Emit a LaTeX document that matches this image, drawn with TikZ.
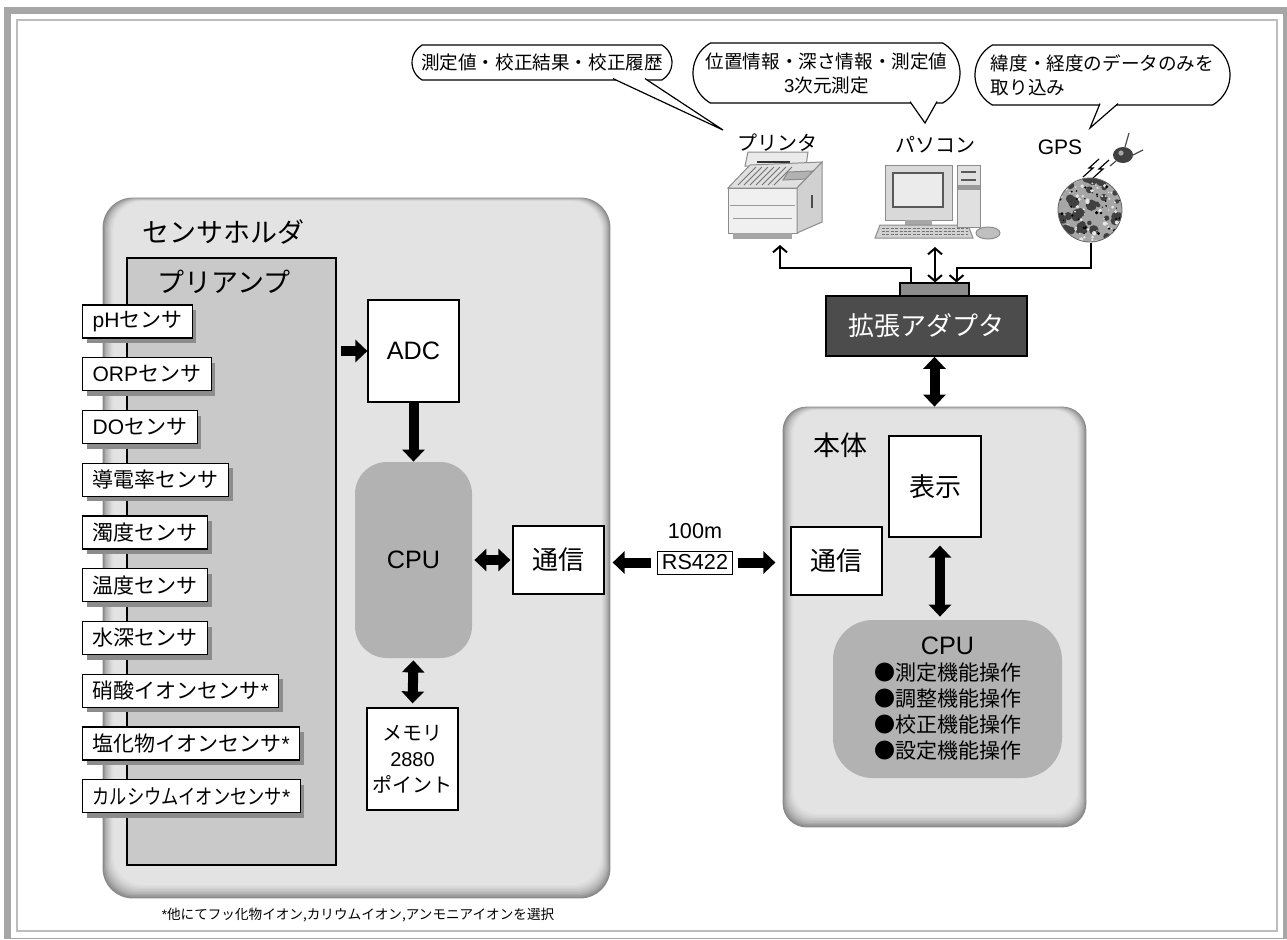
\documentclass[tikz,border=0pt]{standalone}
\usepackage{fontspec}
\setmainfont{Noto Sans CJK JP}
\newfontfamily\lat{Liberation Sans}
\newfontfamily\jpnarrow{Noto Sans CJK JP}[FakeStretch=0.82]
\usetikzlibrary{arrows.meta, shadows, shapes.misc}

% bevelled panel behind an empty node: dark rim, light inside
\newcommand\bevel[2]{%
  \foreach \d/\c in {0/46,1/40,2/34,3/29,4/25,5/21,6/18,7/15,8/13,9/11}{%
    \fill[black!\c, rounded corners=#2]
      ([xshift=\d*0.6pt, yshift=-\d*0.2pt]#1.north west) rectangle
      ([xshift=-\d*0.5pt, yshift=\d*0.75pt]#1.south east);
  }%
}

\begin{document}
\begin{tikzpicture}[x=0.5pt, y=-0.5pt,
  every node/.style={font=\fontsize{10.5}{13}\selectfont},
  box/.style={draw, fill=white, line width=0.6pt, inner sep=0pt, align=center},
  sensor/.style={draw, fill=white, line width=0.6pt, anchor=west, minimum height=16.5pt,
    inner xsep=5pt, inner ysep=0pt,
    drop shadow={shadow xshift=2pt, shadow yshift=-2.5pt, fill=black!45, opacity=1}},
  cpubox/.style={fill=black!30, rounded corners=16pt, inner sep=0pt, align=center},
  title/.style={anchor=west, inner sep=0pt, font=\fontsize{13.5}{16}\selectfont},
  bubble/.style={rounded rectangle, rounded rectangle arc length=120, draw, fill=white,
    line width=0.6pt, inner sep=0pt, font=\fontsize{9.3}{12}\selectfont},
  tail/.style={draw, fill=white, line width=0.6pt},
  bigarrow/.style={line width=5pt, -{Triangle[length=6pt,width=11pt]}},
  bigboth/.style={line width=5pt, {Triangle[length=6pt,width=11pt]}-{Triangle[length=6pt,width=11pt]}},
  link/.style={line width=1pt, -{Straight Barb[length=3pt,width=7pt]}},
  linkboth/.style={line width=1pt, {Straight Barb[length=3pt,width=7pt]}-{Straight Barb[length=3pt,width=7pt]}},
  icon/.style={draw=black!45, line width=0.5pt}
]
\useasboundingbox (0,0) rectangle (1287,939);

% page frame
\fill[black!35] (4,7) rectangle (1287,939);
\fill[white] (11,14) rectangle (1283,937.5);
\draw[black!26, line width=1pt] (16.5,19.5) rectangle (1277,931);

% sensor holder
\node[inner sep=0pt, minimum width=253.5pt, minimum height=350pt] (holder) at (356.5,548) {};
\bevel{holder}{15pt}
\node[title] (holderT) at (142,232) {センサホルダ};
\node[draw, fill=black!21, line width=0.6pt, minimum width=104.5pt, minimum height=303.5pt] (pre) at (231.5,561.5) {};
\node[title] (preT) at (157,282) {プリアンプ};

\foreach \s [count=\i from 0] in {{\lat pH}センサ, {\lat ORP}センサ, {\lat DO}センサ, 導電率センサ, 濁度センサ,
    温度センサ, 水深センサ, 硝酸イオンセンサ{\lat *}, 塩化物イオンセンサ{\lat *}, {\jpnarrow カルシウムイオンセンサ}{\lat *}}
  \node[sensor] (s\i) at (82,321.5+52.75*\i) {\s};

\node[box, minimum width=45.5pt, minimum height=51pt, font=\lat\fontsize{12.6}{14}\selectfont] (adc) at (413.5,351) {ADC};
\node[cpubox, minimum width=58.5pt, minimum height=98pt, font=\lat\fontsize{12.6}{14}\selectfont] (cpuL) at (413.5,560) {CPU};
\node[box, minimum width=45.5pt, minimum height=51pt, font=\fontsize{10}{13}\selectfont] (mem) at (412.5,759) {メモリ\\{\lat 2880}\\ポイント};
\node[box, minimum width=45.5pt, minimum height=34pt, font=\fontsize{13}{15}\selectfont] (comL) at (558.5,560) {通信};

% cable
\node[draw, line width=0.5pt, inner xsep=2pt, inner ysep=1pt, minimum height=11.5pt, font=\lat\fontsize{10.8}{12}\selectfont] (rs) at (695,562.5) {RS422};
\node[font=\lat\fontsize{10.8}{12}\selectfont] (len) at (695,531) {100m};

% main unit
\node[inner sep=0pt, minimum width=151.5pt, minimum height=210pt] (body) at (934.5,617) {};
\bevel{body}{12pt}
\node[title] (bodyT) at (813,445) {本体};
\node[box, minimum width=46pt, minimum height=50.5pt, font=\fontsize{13}{15}\selectfont] (disp) at (935,486.5) {表示};
\node[box, minimum width=45.5pt, minimum height=34pt, font=\fontsize{13}{15}\selectfont] (comR) at (836.5,561) {通信};
\node[cpubox, rounded corners=20pt, minimum width=114.5pt, minimum height=79pt] (cpuR) at (947.5,699)
  {{\lat\fontsize{12.6}{13}\selectfont CPU}\\●測定機能操作\\●調整機能操作\\●校正機能操作\\●設定機能操作};

% adapter
\node[draw, fill=black!70, line width=0.8pt, minimum width=100.5pt, minimum height=30pt, text=white,
  font=\fontsize{13}{15}\selectfont] (ada) at (926.5,326) {拡張アダプタ};
\node[draw, fill=black!45, line width=0.6pt, minimum width=34.5pt, minimum height=6.5pt, inner sep=0pt] (blk) at (934.5,289.5) {};

% block arrows
\draw[bigarrow, shorten <=2pt] (adc.west -| pre.east) -- (adc.west);
\draw[bigarrow] (adc.south) -- (cpuL.north);
\draw[bigboth, shorten <=1pt, shorten >=1pt] (cpuL.east) -- (comL.west);
\draw[bigboth, shorten <=1pt, shorten >=2pt] (cpuL.south) -- (mem.north);
\draw[bigarrow, shorten <=3pt, shorten >=4pt] (rs.west) -- (rs.west -| comL.east);
\draw[bigarrow, shorten <=2.5pt, shorten >=7.5pt] (rs.east) -- (rs.east -| comR.west);
\draw[bigboth] (ada.south -| body.north) -- (body.north);
\draw[bigboth, shorten <=4pt, shorten >=1.5pt] ([xshift=2.5pt]disp.south) -- ([xshift=2.5pt]disp.south |- cpuR.north);

% printer
\filldraw[icon, fill=black!8] (748,152) -- (808,152) -- (806,166) -- (745,166) -- cycle;
\draw[black!80, line width=1.2pt] (757,162) -- (790,162);
\filldraw[icon, fill=black!12] (728,188) -- (750,165) -- (822,162) -- (797,188) -- cycle;
\foreach \k in {0,...,6}
  \draw[black!55] (738+6*\k,185) -- (756+6*\k,167);
\filldraw[icon, fill=black!30] (788,172) -- (812,171) -- (807,179) -- (783,180) -- cycle;
\filldraw[icon, fill=black!6] (728,188) rectangle (797,233);
\draw[black!40] (730,205) -- (795,205) (733,218) -- (792,218);
\filldraw[icon, fill=black!18] (797,188) -- (822,162) -- (822,222) -- (797,233) -- cycle;
\draw[black!70, line width=1pt] (812,195) -- (812,208);
\fill[black!35] (733,233) rectangle (792,239);
\node (prnL) at (777,143) {\fontsize{10}{12}\selectfont プリンタ};

% personal computer
\filldraw[icon, fill=black!15] (885,165) rectangle (952,220);
\filldraw[draw=black!65, line width=0.8pt, fill=black!8] (893,173) rectangle (943,207);
\fill[black!35] (905,220) rectangle (932,225);
\filldraw[icon, fill=black!18] (880,225) -- (968,225) -- (973,238) -- (875,238) -- cycle;
\foreach \r in {228.5,231.5,234.5}
  \draw[black!55, dash pattern=on 1.5pt off 0.7pt] (882,\r) -- (968,\r);
\filldraw[icon, fill=black!12] (957,165) rectangle (980,227);
\draw[black!65, line width=1pt] (961,172) -- (976,172) (961,180) -- (976,180);
\fill[black!40] (957.5,185) rectangle (979.5,190);
\filldraw[icon, fill=black!25] (988,233) ellipse [x radius=6pt, y radius=3pt];
\node (pcL) at (935,145) {\fontsize{10}{12}\selectfont パソコン};

% gps: globe, satellite, signal
\begin{scope}
  \clip (1090,210) circle [radius=16pt];
  \fill[black!35] (1090,210) circle [radius=16pt];
  \pgfmathsetseed{11}
  \foreach \k in {1,...,45}{
    \pgfmathsetmacro\gr{1+2*rnd}
    \fill[black!75] (1090+32*rand,210+32*rand) circle [radius=\gr pt];
  }
  \foreach \k in {1,...,70}{
    \pgfmathsetmacro\gr{0.3+0.8*rnd}
    \fill[white!90!black] (1090+32*rand,210+32*rand) circle [radius=\gr pt];
  }
  \foreach \k in {1,...,40}{
    \pgfmathsetmacro\gr{0.3+0.6*rnd}
    \fill[black] (1090+32*rand,210+32*rand) circle [radius=\gr pt];
  }
\end{scope}
\draw[black!60] (1090,210) circle [radius=16pt];
\fill[black!75] (1123,155) ellipse [x radius=5pt, y radius=4pt];
\fill[black!35] (1121,153) circle [radius=1.3pt];
\draw[black!70, line width=0.6pt] (1125,147) -- (1129,133) (1131,156) -- (1143,150) (1116,161) -- (1110,166);
\draw[line width=0.6pt] (1083,177) -- (1093,168) -- (1089,168) -- (1099,159);
\draw[line width=0.6pt] (1093,178) -- (1103,169) -- (1099,169) -- (1109,160);
\node[font=\lat\fontsize{10.5}{12}\selectfont] (gpsL) at (1060,147) {GPS};

% wiring to the adapter
\coordinate (prnBase) at (780,245);
\coordinate (pcBase) at (935,247);
\coordinate (gpsBase) at (1091,243);
\draw[link] ([xshift=6pt]blk.north west) -- ++(0,-14) -| (prnBase);
\draw[linkboth] (pcBase) -- (pcBase |- blk.north);
\draw[link] (gpsBase) -- ++(0,25) -| ([xshift=11pt]blk.north);

% speech bubbles
\node[bubble, minimum width=130pt, minimum height=17.5pt] (b1) at (542,62.5) {測定値・校正結果・校正履歴};
\coordinate (prnTip) at (723,130);
\draw[tail] ([xshift=35.5pt,yshift=1pt]b1.south) -- (prnTip) -- ([xshift=51.5pt,yshift=1pt]b1.south);

\node[bubble, minimum width=133.5pt, minimum height=30pt, align=center] (b2) at (826.5,73) {位置情報・深さ情報・測定値\\{\lat 3}次元測定};
\coordinate (pcTip) at (925,123);
\draw[tail] ([xshift=41.75pt,yshift=1pt]b2.south) -- (pcTip) -- ([xshift=55.25pt,yshift=1pt]b2.south);

\node[bubble, minimum width=127.5pt, minimum height=30pt, align=left] (b3) at (1102.5,75) {緯度・経度のデータのみを\\取り込み};
\coordinate (gpsTip) at (1090,128);
\draw[tail] ([xshift=-1.25pt,yshift=1pt]b3.south) -- (gpsTip) -- ([xshift=7.75pt,yshift=1pt]b3.south);

% footnote
\node[font=\fontsize{6.8}{8}\selectfont] (note) at (358,915) {{\lat *}他にてフッ化物イオン,カリウムイオン,アンモニアイオンを選択};
\end{tikzpicture}
\end{document}
